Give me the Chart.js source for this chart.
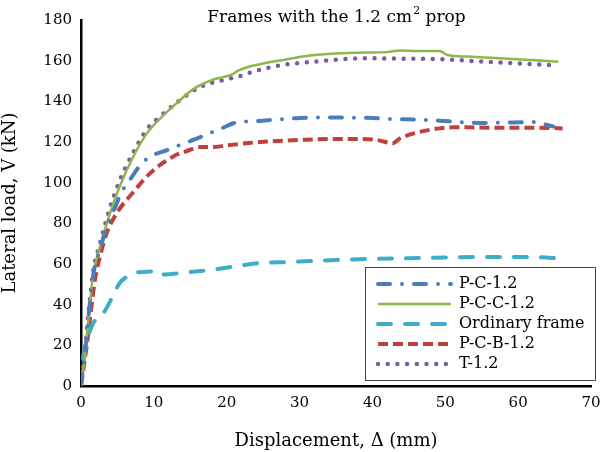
<!DOCTYPE html>
<html lang="en">
<head>
  <meta charset="UTF-8">
  <title>Frames with the 1.2 cm2 prop</title>
  <script src="https://cdn.jsdelivr.net/npm/chart.js"></script>
  <style>
    html, body { margin: 0; padding: 0; background: #fff; }
    #wrap { width: 603px; height: 452px; }
  </style>
</head>
<body>
  <div id="wrap"><canvas id="chart" width="603" height="452"></canvas></div>

  <script>
    // axis ticks
    const xTicks = [0, 10, 20, 30, 40, 50, 60, 70];
    const yTicks = [0, 20, 40, 60, 80, 100, 120, 140, 160, 180];

    const seriesNames = ["P-C-1.2", "P-C-C-1.2", "Ordinary frame", "P-C-B-1.2", "T-1.2"];

    // P-C-1.2
    const pcX = [0, 0.3, 0.6, 1, 1.7, 2.6, 4, 4.7, 5.5, 6.7, 8, 9.5, 11.8, 13.5, 15.4, 17.7, 19.5, 20.9, 24, 27, 30, 33, 36.4, 40, 42.8, 46, 49.2, 52, 55.2, 58, 62, 64.8];
    const pcY = [0, 9, 18, 33, 55, 67, 83, 88, 95, 101.3, 108, 112.8, 116, 118.5, 121, 124.4, 127, 129.2, 130.3, 131, 131.8, 132, 132, 131.8, 131.3, 131, 130.5, 129.8, 129.3, 129.5, 129.8, 127.6];

    // P-C-C-1.2
    const pccX = [0, 0.3, 0.6, 1, 1.7, 2.6, 4, 5.3, 7.2, 9, 11, 13.1, 15.4, 18, 20.9, 21.5, 23, 25.5, 28, 31.4, 35, 39.2, 42, 43.8, 46, 49.2, 50.3, 53, 57.5, 61, 65.5];
    const pccY = [0, 8, 16, 32.5, 55.5, 68.5, 85, 98, 113, 124, 132, 139, 146, 150.5, 153.5, 155, 157, 159, 160.5, 162.5, 163.5, 164, 164.2, 165, 164.7, 164.8, 162.8, 162, 161.2, 160.5, 159.5];

    // Ordinary frame
    const ordX = [0, 0.2, 0.4, 0.8, 1.7, 3.1, 4.2, 5.3, 6.2, 7.2, 9, 9.8, 10.4, 12, 15.4, 18, 20.9, 22, 24.5, 27, 30, 35, 40, 45, 50, 55, 60, 63, 65.5];
    const ordY = [0, 10, 17, 22.6, 31, 36, 43, 50.6, 53.5, 55.5, 56.2, 56.3, 54.6, 55, 56.2, 57.2, 58.7, 59.3, 60.5, 60.8, 61.2, 62, 62.5, 62.8, 63.2, 63.5, 63.5, 63.3, 62.8];

    // P-C-B-1.2
    const pcbX = [0, 0.4, 0.8, 1.2, 1.9, 2.7, 3.5, 4.9, 7.1, 9.5, 12.6, 14.5, 16.3, 18, 20, 23, 25.5, 30, 34.6, 38, 40.6, 42.8, 43.8, 46, 49.2, 51, 52.9, 56, 60, 63, 66.1];
    const pcbY = [0, 10, 20, 32, 52, 65, 75, 85, 95, 104.7, 112.8, 115.5, 117.5, 117.5, 118.3, 119.5, 120.2, 121, 121.5, 121.5, 121, 119.4, 121.8, 124.5, 126.7, 127.2, 127.2, 127, 127, 127, 126.7];

    // T-1.2
    const tX = [0, 0.3, 0.6, 1, 1.7, 2.6, 4, 5.3, 7.2, 9, 11, 13, 16.3, 19, 21.4, 24, 26.3, 29, 31.9, 35, 39.6, 43.8, 49.2, 52, 55.6, 59, 62.5, 65.2];
    const tY = [0, 10, 20, 35, 57, 70, 88, 101, 115, 126, 133, 139, 147, 150, 152, 155, 157, 158.5, 159.5, 160.5, 161.2, 161, 160.8, 160.2, 159.5, 158.8, 158.2, 157.6];

    function pts(xs, ys) {
      return xs.map((x, i) => ({ x: x, y: ys[i] }));
    }

    const FONT = "'DejaVu Serif', 'Liberation Serif', serif";
    const FS = 15;

    const datasets = [
      { label: seriesNames[0], data: pts(pcX, pcY), borderColor: "#4a7ebb", borderWidth: 4,
        borderDash: [12, 12, 0, 12], borderCapStyle: "round" },
      { label: seriesNames[1], data: pts(pccX, pccY), borderColor: "#8cb84a", borderWidth: 2.5,
        borderDash: [], borderCapStyle: "butt" },
      { label: seriesNames[2], data: pts(ordX, ordY), borderColor: "#3eadc8", borderWidth: 4,
        borderDash: [13, 14], borderCapStyle: "round" },
      { label: seriesNames[3], data: pts(pcbX, pcbY), borderColor: "#c0403d", borderWidth: 4,
        borderDash: [10, 5], borderCapStyle: "butt" },
      { label: seriesNames[4], data: pts(tX, tY), borderColor: "#7c5ba6", borderWidth: 4.5,
        borderDash: [0, 9.7], borderCapStyle: "round" }
    ];
    datasets.forEach(d => {
      d.showLine = true;
      d.fill = false;
      d.pointRadius = 0;
      d.pointHoverRadius = 0;
      d.cubicInterpolationMode = "monotone";
    });

    // title drawn over the top of the plot area, like the original
    const titlePlugin = {
      id: "topTitle",
      afterDraw(chart) {
        const ctx = chart.ctx;
        const a = chart.chartArea;
        ctx.save();
        ctx.fillStyle = "#000";
        ctx.textBaseline = "middle";
        ctx.font = "17px " + FONT;
        const main = "Frames with the 1.2 cm";
        const tail = " prop";
        const w1 = ctx.measureText(main).width;
        ctx.font = "11px " + FONT;
        const w2 = ctx.measureText("2").width;
        ctx.font = "17px " + FONT;
        const w3 = ctx.measureText(tail).width;
        let x = (a.left + a.right) / 2 - (w1 + w2 + w3) / 2;
        const y = 18;
        ctx.textAlign = "left";
        ctx.fillText(main, x, y);
        ctx.font = "11px " + FONT;
        ctx.fillText("2", x + w1 + 1, y - 7);
        ctx.font = "17px " + FONT;
        ctx.fillText(tail, x + w1 + w2 + 1, y);
        ctx.restore();
      }
    };

    // boxed legend inside the plot, bottom right
    const legendPlugin = {
      id: "boxLegend",
      afterDraw(chart) {
        const ctx = chart.ctx;
        const left = 365, top = 267, right = 595, bottom = 380;
        ctx.save();
        ctx.fillStyle = "#fff";
        ctx.fillRect(left, top, right - left, bottom - top);
        ctx.strokeStyle = "#444";
        ctx.lineWidth = 1;
        ctx.strokeRect(left + 0.5, top + 0.5, right - left, bottom - top);
        chart.data.datasets.forEach((d, i) => {
          const y = 284 + i * 20;
          ctx.beginPath();
          ctx.strokeStyle = d.borderColor;
          ctx.lineWidth = d.borderWidth;
          ctx.lineCap = d.borderCapStyle;
          ctx.setLineDash(d.borderDash);
          ctx.moveTo(378, y);
          ctx.lineTo(451, y);
          ctx.stroke();
          ctx.setLineDash([]);
          ctx.fillStyle = "#000";
          ctx.font = "16px " + FONT;
          ctx.textAlign = "left";
          ctx.textBaseline = "middle";
          ctx.fillText(d.label, 459, y);
        });
        ctx.restore();
      }
    };

    const ctx = document.getElementById("chart").getContext("2d");
    new Chart(ctx, {
      type: "scatter",
      data: { datasets: datasets },
      plugins: [titlePlugin, legendPlugin],
      options: {
        responsive: false,
        animation: false,
        layout: { padding: { top: 20, right: 12, left: 0, bottom: 0 } },
        plugins: {
          legend: { display: false },
          title: { display: false },
          tooltip: { enabled: false }
        },
        scales: {
          x: {
            type: "linear",
            min: 0, max: 70,
            afterBuildTicks: s => { s.ticks = xTicks.map(v => ({ value: v })); },
            grid: { display: false, drawTicks: false },
            border: { display: true, color: "#000", width: 2.5 },
            ticks: { color: "#000", padding: 8, font: { family: FONT, size: FS } },
            title: { display: true, text: "Displacement, \u0394 (mm)", color: "#000",
                     font: { family: FONT, size: 18 }, padding: { top: 12, bottom: 0 } },
            afterFit: s => { s.height = 66; s.paddingLeft = 0; s.paddingRight = 0; }
          },
          y: {
            type: "linear",
            min: 0, max: 180,
            afterBuildTicks: s => { s.ticks = yTicks.map(v => ({ value: v })); },
            grid: { display: false, drawTicks: false },
            border: { display: true, color: "#000", width: 2.5 },
            ticks: { color: "#000", padding: 9, font: { family: FONT, size: FS } },
            title: { display: true, text: "Lateral load, V (kN)", color: "#000",
                     font: { family: FONT, size: 18 }, padding: { top: 0, bottom: 2 } },
            afterFit: s => { s.width = 81; s.paddingTop = 0; s.paddingBottom = 0; }
          }
        }
      }
    });
  </script>
</body>
</html>
